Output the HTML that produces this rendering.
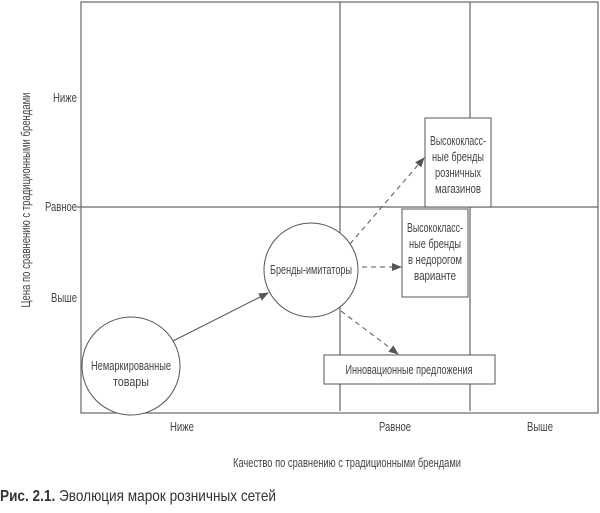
<!DOCTYPE html>
<html><head><meta charset="utf-8"><style>
html,body{margin:0;padding:0;background:#fff;}
svg text{font-family:"Liberation Sans",sans-serif;fill:#444;font-size:12.5px;}
</style></head><body>
<svg width="600" height="508" viewBox="0 0 600 508" xmlns="http://www.w3.org/2000/svg">
<defs>
<marker id="a" markerWidth="10" markerHeight="8" refX="9" refY="4" orient="auto" markerUnits="userSpaceOnUse">
<path d="M0,0 L10,4 L0,8 Z" fill="#555"/></marker>
</defs>
<g stroke="#666" stroke-width="1.2" fill="none">
<rect x="81" y="2" width="517" height="411"/>
<line x1="340" y1="2" x2="340" y2="411"/>
<line x1="470" y1="2" x2="470" y2="411"/>
<line x1="77" y1="207" x2="598" y2="207"/>
</g>
<g stroke="#555" stroke-width="1" fill="#fff">
<circle cx="131" cy="366" r="49"/>
<circle cx="311" cy="270" r="47"/>
<rect x="425" y="118" width="66" height="89"/>
<rect x="402" y="209" width="66" height="88"/>
<rect x="324" y="355" width="171" height="29"/>
</g>
<g stroke="#555" stroke-width="1" fill="none">
<line x1="173" y1="341" x2="268" y2="293" marker-end="url(#a)"/>
<line x1="350" y1="244" x2="424" y2="158" stroke-dasharray="5,4" marker-end="url(#a)"/>
<line x1="362" y1="267" x2="401" y2="267" stroke-dasharray="5,4" marker-end="url(#a)"/>
<line x1="341" y1="311" x2="398" y2="354" stroke-dasharray="5,4" marker-end="url(#a)"/>
</g>
<g text-anchor="middle">
<text x="131" y="370" textLength="80" lengthAdjust="spacingAndGlyphs">Немаркированные</text>
<text x="131" y="386" textLength="36" lengthAdjust="spacingAndGlyphs">товары</text>
<text x="311" y="274" textLength="82" lengthAdjust="spacingAndGlyphs">Бренды-имитаторы</text>
<text x="458" y="145" textLength="56" lengthAdjust="spacingAndGlyphs">Высококласс-</text>
<text x="458" y="161" textLength="52" lengthAdjust="spacingAndGlyphs">ные бренды</text>
<text x="458" y="177" textLength="46" lengthAdjust="spacingAndGlyphs">розничных</text>
<text x="458" y="193" textLength="46" lengthAdjust="spacingAndGlyphs">магазинов</text>
<text x="435" y="232" textLength="56" lengthAdjust="spacingAndGlyphs">Высококласс-</text>
<text x="435" y="248" textLength="52" lengthAdjust="spacingAndGlyphs">ные бренды</text>
<text x="435" y="264" textLength="54" lengthAdjust="spacingAndGlyphs">в недорогом</text>
<text x="435" y="280" textLength="42" lengthAdjust="spacingAndGlyphs">варианте</text>
<text x="409" y="374" textLength="127" lengthAdjust="spacingAndGlyphs">Инновационные предложения</text>
<text x="182" y="431" textLength="24" lengthAdjust="spacingAndGlyphs">Ниже</text>
<text x="395" y="431" textLength="32" lengthAdjust="spacingAndGlyphs">Равное</text>
<text x="540" y="431" textLength="26" lengthAdjust="spacingAndGlyphs">Выше</text>
<text x="347" y="467" textLength="228" lengthAdjust="spacingAndGlyphs">Качество по сравнению с традиционными брендами</text>
</g>
<g text-anchor="end">
<text x="77" y="102" textLength="24" lengthAdjust="spacingAndGlyphs">Ниже</text>
<text x="77" y="211" textLength="32" lengthAdjust="spacingAndGlyphs">Равное</text>
<text x="77" y="302" textLength="26" lengthAdjust="spacingAndGlyphs">Выше</text>
</g>
<text x="0" y="0" text-anchor="middle" textLength="215" lengthAdjust="spacingAndGlyphs" transform="translate(30,200) rotate(-90)">Цена по сравнению с традиционными брендами</text>
<text x="0" y="501" style="font-size:16px;fill:#333" textLength="276" lengthAdjust="spacingAndGlyphs"><tspan font-weight="bold">Рис. 2.1.</tspan>  Эволюция марок розничных сетей</text>
</svg>
</body></html>
